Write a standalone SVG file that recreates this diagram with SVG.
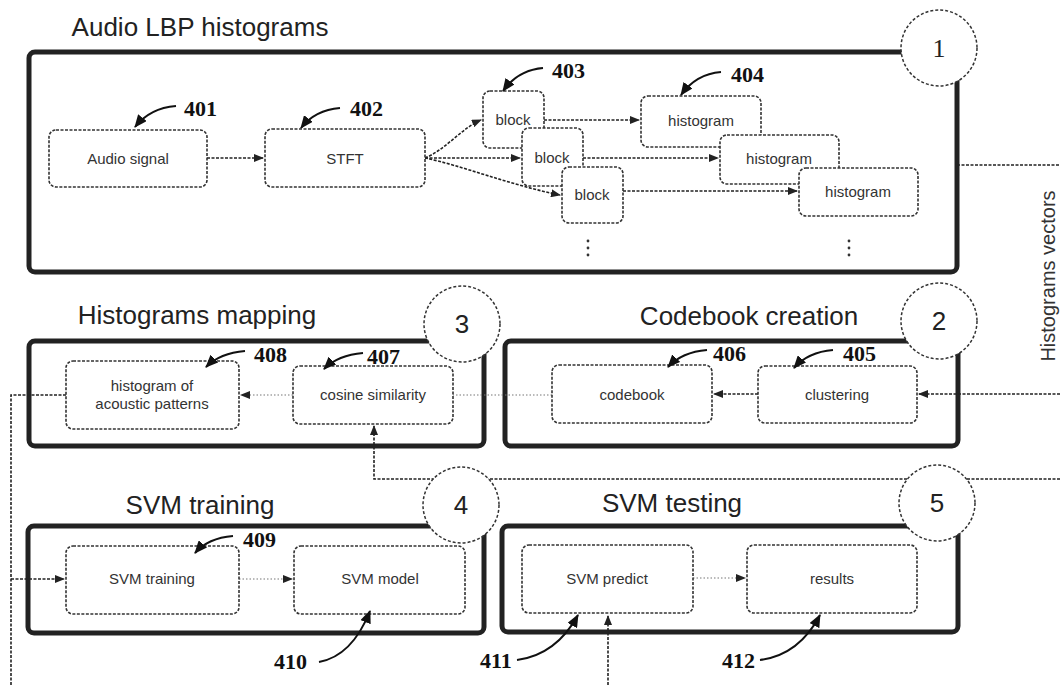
<svg xmlns="http://www.w3.org/2000/svg" width="1060" height="685" viewBox="0 0 1060 685">
<defs>
<marker id="ah" markerUnits="userSpaceOnUse" markerWidth="10" markerHeight="8" refX="9" refY="4" orient="auto"><path d="M0,0 L10,4 L0,8 z" fill="#222"/></marker>
<marker id="lh" markerUnits="userSpaceOnUse" markerWidth="13" markerHeight="11" refX="12" refY="5.5" orient="auto"><path d="M0,0 L13,5.5 L0,11 z" fill="#111"/></marker>
<style>
.cont{fill:none;stroke:#222;stroke-width:5}
.node{fill:#fff;stroke:#333;stroke-width:1.6;stroke-dasharray:3 1.5}
.circ{fill:#fff;stroke:#333;stroke-width:1.5;stroke-dasharray:3 2}
.conn{fill:none;stroke:#222;stroke-width:1.6;stroke-dasharray:3 1.5}
.light{fill:none;stroke:#777;stroke-width:1.2;stroke-dasharray:1.5 2}
.lead{fill:none;stroke:#111;stroke-width:2}
.nt{font-family:"Liberation Sans",Arial,sans-serif;font-size:15px;fill:#333;text-anchor:middle}
.title{font-family:"Liberation Sans",Arial,sans-serif;font-size:26px;fill:#222;text-anchor:middle}
.num{font-family:"Liberation Sans",Arial,sans-serif;font-size:26px;fill:#222;text-anchor:middle}
.lbl{font-family:"Liberation Serif","Times New Roman",serif;font-weight:bold;font-size:22px;fill:#111}
</style>
</defs>
<rect width="1060" height="685" fill="#fff"/>

<!-- titles -->
<text class="title" x="200" y="36">Audio LBP histograms</text>
<text class="title" x="197" y="324">Histograms mapping</text>
<text class="title" x="749" y="325">Codebook creation</text>
<text class="title" x="200" y="514">SVM training</text>
<text class="title" x="672" y="512">SVM testing</text>
<text font-family="Liberation Sans, Arial, sans-serif" font-size="20" fill="#333" text-anchor="middle" transform="rotate(-90 1055 276)" x="1055" y="276">Histograms vectors</text>

<!-- containers -->
<g id="containers">
<rect id="c1" class="cont" x="29" y="52" width="928" height="220" rx="6"/>
<rect id="c3" class="cont" x="29" y="341" width="455" height="105" rx="6"/>
<rect id="c2" class="cont" x="505" y="341" width="453" height="105" rx="6"/>
<rect id="c4" class="cont" x="28" y="526" width="456" height="107" rx="6"/>
<rect id="c5" class="cont" x="502" y="526" width="456" height="106" rx="6"/>
</g>

<!-- connectors -->
<g id="connectors">
<path class="conn" d="M207,158 H263" marker-end="url(#ah)"/>
<path class="conn" d="M425,158 C445,150 462,128 481,120" marker-end="url(#ah)"/>
<path class="conn" d="M425,158 H520" marker-end="url(#ah)"/>
<path class="conn" d="M425,158 C460,165 510,185 560,195" marker-end="url(#ah)"/>
<path class="conn" d="M544,120 H639" marker-end="url(#ah)"/>
<path class="conn" d="M583,158 H718" marker-end="url(#ah)"/>
<path class="conn" d="M623,191 H797" marker-end="url(#ah)"/>
<path class="conn" d="M957,165 H1060"/>
<path class="conn" d="M1060,394 H919" marker-end="url(#ah)"/>
<path class="conn" d="M758,394 H714" marker-end="url(#ah)"/>
<path class="light" d="M552,395 H453"/>
<path class="light" d="M293,395 H241" marker-end="url(#ah)"/>
<path class="conn" d="M1060,479 H374 V426" marker-end="url(#ah)"/>
<path class="conn" d="M66,395 H11 V685"/>
<path class="conn" d="M11,579 H64" marker-end="url(#ah)"/>
<path class="light" d="M239,579 H292" marker-end="url(#ah)"/>
<path class="light" d="M693,578 H745" marker-end="url(#ah)"/>
<path class="conn" d="M608,685 V616" marker-end="url(#ah)"/>
</g>

<!-- nodes -->
<g id="n401"><rect class="node" x="49" y="130" width="158" height="57" rx="7"/><text class="nt" x="128" y="164">Audio signal</text></g>
<g id="n402"><rect class="node" x="265" y="129" width="160" height="58" rx="7"/><text class="nt" x="345" y="164">STFT</text></g>
<g id="n403a"><rect class="node" x="483" y="91" width="61" height="57" rx="7"/><text class="nt" x="513" y="125">block</text></g>
<g id="n403b"><rect class="node" x="522" y="128" width="61" height="58" rx="7"/><text class="nt" x="552" y="163">block</text></g>
<g id="n403c"><rect class="node" x="562" y="167" width="61" height="56" rx="7"/><text class="nt" x="592" y="200">block</text></g>
<g id="n404a"><rect class="node" x="641" y="96" width="120" height="51" rx="7"/><text class="nt" x="701" y="126">histogram</text></g>
<g id="n404b"><rect class="node" x="720" y="135" width="119" height="49" rx="7"/><text class="nt" x="779" y="164">histogram</text></g>
<g id="n404c"><rect class="node" x="799" y="168" width="119" height="48" rx="7"/><text class="nt" x="858" y="197">histogram</text></g>
<g id="dots">
<circle cx="588" cy="241" r="1.4" fill="#333"/><circle cx="588" cy="248" r="1.4" fill="#333"/><circle cx="588" cy="255" r="1.4" fill="#333"/>
<circle cx="849" cy="241" r="1.4" fill="#333"/><circle cx="849" cy="248" r="1.4" fill="#333"/><circle cx="849" cy="255" r="1.4" fill="#333"/>
</g>
<g id="n408"><rect class="node" x="66" y="361" width="173" height="68" rx="7"/><text class="nt" x="152" y="391">histogram of</text><text class="nt" x="152" y="409">acoustic patterns</text></g>
<g id="n407"><rect class="node" x="293" y="366" width="160" height="58" rx="7"/><text class="nt" x="373" y="400">cosine similarity</text></g>
<g id="n406"><rect class="node" x="552" y="365" width="160" height="58" rx="7"/><text class="nt" x="632" y="400">codebook</text></g>
<g id="n405"><rect class="node" x="758" y="366" width="159" height="57" rx="7"/><text class="nt" x="837" y="400">clustering</text></g>
<g id="n409"><rect class="node" x="66" y="546" width="173" height="68" rx="7"/><text class="nt" x="152" y="584">SVM training</text></g>
<g id="n410"><rect class="node" x="294" y="546" width="171" height="68" rx="7"/><text class="nt" x="380" y="584">SVM model</text></g>
<g id="n411"><rect class="node" x="522" y="545" width="171" height="68" rx="7"/><text class="nt" x="607" y="584">SVM predict</text></g>
<g id="n412"><rect class="node" x="747" y="545" width="170" height="68" rx="7"/><text class="nt" x="832" y="584">results</text></g>

<!-- numbered circles -->
<g id="k1"><circle class="circ" cx="939" cy="48" r="38"/><text x="939" y="57" font-family="Liberation Serif, serif" font-size="26" fill="#222" text-anchor="middle">1</text></g>
<g id="k2"><circle class="circ" cx="939" cy="321" r="38"/><text class="num" x="939" y="330">2</text></g>
<g id="k3"><circle class="circ" cx="462" cy="324" r="38"/><text class="num" x="462" y="333">3</text></g>
<g id="k4"><circle class="circ" cx="461" cy="505" r="38"/><text class="num" x="461" y="514">4</text></g>
<g id="k5"><circle class="circ" cx="937" cy="503" r="38"/><text class="num" x="937" y="512">5</text></g>

<!-- reference labels -->
<g id="labels">
<path class="lead" d="M176,106 Q150,108 135,127" marker-end="url(#lh)"/><text class="lbl" x="184" y="116">401</text>
<path class="lead" d="M340,108 Q315,110 301,128" marker-end="url(#lh)"/><text class="lbl" x="350" y="116">402</text>
<path class="lead" d="M543,68 Q518,70 503,91" marker-end="url(#lh)"/><text class="lbl" x="552" y="78">403</text>
<path class="lead" d="M721,72 Q696,74 681,95" marker-end="url(#lh)"/><text class="lbl" x="731" y="82">404</text>
<path class="lead" d="M833,350 Q808,352 794,368" marker-end="url(#lh)"/><text class="lbl" x="843" y="361">405</text>
<path class="lead" d="M707,350 Q682,352 668,367" marker-end="url(#lh)"/><text class="lbl" x="713" y="361">406</text>
<path class="lead" d="M363,353 Q338,355 324,369" marker-end="url(#lh)"/><text class="lbl" x="367" y="364">407</text>
<path class="lead" d="M245,351 Q220,353 206,367" marker-end="url(#lh)"/><text class="lbl" x="254" y="362">408</text>
<path class="lead" d="M233,536 Q208,538 195,553" marker-end="url(#lh)"/><text class="lbl" x="243" y="547">409</text>
<path class="lead" d="M319,662 Q352,656 370,611" marker-end="url(#lh)"/><text class="lbl" x="274" y="669">410</text>
<path class="lead" d="M517,660 Q556,655 578,615" marker-end="url(#lh)"/><text class="lbl" x="480" y="668">411</text>
<path class="lead" d="M760,660 Q799,655 820,615" marker-end="url(#lh)"/><text class="lbl" x="722" y="668">412</text>
</g>
</svg>
